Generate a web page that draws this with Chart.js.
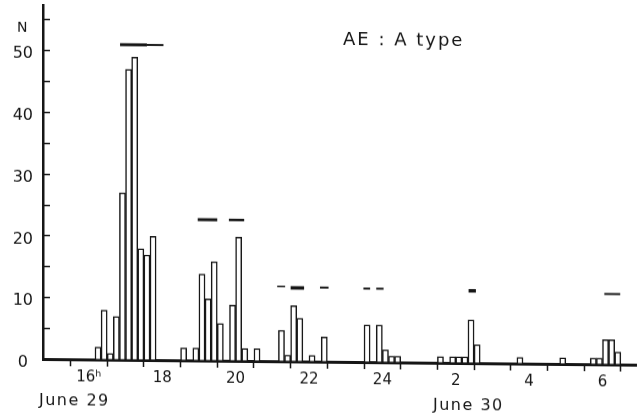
<!DOCTYPE html>
<html>
<head>
<meta charset="utf-8">
<script src="https://cdn.jsdelivr.net/npm/chart.js@4"></script>
<style>
  html, body { margin: 0; padding: 0; background: #fff; }
  /* the scanned original sits slightly askew: baseline drops to the right */
  #c { display: block; transform: skewY(0.55deg); transform-origin: 43px 359px; }
</style>
</head>
<body>
<canvas id="c" width="637" height="415"></canvas>
<script>
// 10-minute bins, start time of each bin (after midnight = June 30)
const binStart = [
  '16:10', '16:20', '16:30', '16:40', '16:50', '17:00', '17:10', '17:20', '17:30', '17:40',
  '18:30', '18:50', '19:00', '19:10', '19:20', '19:30', '19:50', '20:00', '20:10', '20:30',
  '21:10', '21:20', '21:30', '21:40', '22:00', '22:20', '23:30', '23:50', '0:00', '0:10', '0:20',
  '1:30', '1:50', '2:00', '2:10', '2:20', '2:30', '3:40', '4:50', '5:40', '5:50', '6:00', '6:10', '6:20'
];
const counts = [
  2, 8, 1, 7, 27, 47, 49, 18, 17, 20,
  2, 2, 14, 10, 16, 6, 9, 20, 2, 2,
  5, 1, 9, 7, 1, 4, 6, 6, 2, 1, 1,
  1, 1, 1, 1, 7, 3, 1, 1, 1, 1, 4, 4, 2
];

// short horizontal bars drawn above the groups
const segFrom  = ['16:51', '17:35', '18:58', '19:49', '21:08', '21:30', '22:18', '23:29', '23:50', '2:21', '6:03'];
const segTo    = ['17:35', '18:02', '19:30', '20:14', '21:21', '21:52', '22:32', '23:40', '0:02', '2:33', '6:29'];
const segLevel = [51, 51, 22.8, 22.8, 12.1, 11.9, 12, 11.9, 11.9, 11.7, 11.4];

const hourTicks  = [16, 18, 20, 22, 24, 26, 28, 30];
const hourLabels = ['16\u02B0', '18', '20', '22', '24', '2', '4', '6'];
const yTicks = [0, 10, 20, 30, 40, 50];

const INK = '#161616';
const BIN_MIN = 10;
const segWidths = [3, 2, 3, 2.5, 1.5, 3.5, 2, 2, 2, 3.5, 2];

function toHours(s) {
  const [h, m] = s.split(':').map(Number);
  return (h < 12 ? h + 24 : h) + m / 60;
}

const barData = binStart.map((s, i) => ({ x: toHours(s) + BIN_MIN / 120, y: counts[i] }));

const segSets = segFrom.map((s, i) => ({
  type: 'line',
  data: [{ x: toHours(s), y: segLevel[i] }, { x: toHours(segTo[i]), y: segLevel[i] }],
  borderColor: INK,
  borderWidth: segWidths[i],
  borderCapStyle: 'butt',
  pointRadius: 0,
  fill: false
}));

const extras = {
  id: 'extras',
  afterDraw(chart) {
    const c = chart.ctx;
    const ys = chart.scales.y;
    const left = chart.chartArea.left;
    c.save();
    // minor + major tick marks on the inside of the y axis
    c.strokeStyle = INK;
    c.lineWidth = 1.5;
    for (let v = 5; v < ys.max; v += 5) {
      const py = Math.round(ys.getPixelForValue(v)) + 0.5;
      c.beginPath();
      c.moveTo(left, py);
      c.lineTo(left + 7, py);
      c.stroke();
    }
    c.fillStyle = INK;
    c.textBaseline = 'alphabetic';
    c.textAlign = 'left';
    c.font = '14px "DejaVu Sans"';
    c.fillText('N', 17, 32);
    c.font = '18px "DejaVu Sans"';
    c.letterSpacing = '2px';
    c.fillText('AE : A type', 343, 42);
    c.font = '16px "DejaVu Sans"';
    c.letterSpacing = '1.5px';
    c.fillText('June 29', 39, 405);
    c.fillText('June 30', 433, 406);
    c.restore();
  }
};

new Chart(document.getElementById('c'), {
  type: 'bar',
  data: {
    datasets: [{
      data: barData,
      backgroundColor: '#fff',
      borderColor: INK,
      borderWidth: 1.5,
      categoryPercentage: 1,
      barPercentage: 1
    }, ...segSets]
  },
  options: {
    responsive: false,
    animation: false,
    layout: { padding: { top: 5, left: 0, right: 0, bottom: 0 } },
    plugins: { legend: { display: false }, tooltip: { enabled: false } },
    scales: {
      x: {
        type: 'linear',
        offset: false,
        min: 14.75,
        max: 30.94,
        afterFit(scale) {
          scale.height = 56;
          scale.paddingLeft = 0;
          scale.paddingRight = 0;
        },
        afterBuildTicks(scale) {
          const t = [];
          for (let h = 15.5; h <= 30.5; h += 0.5) t.push({ value: h });
          scale.ticks = t;
        },
        grid: {
          offset: false,
          drawOnChartArea: false,
          drawTicks: true,
          tickLength: 7,
          tickWidth: 1.5,
          tickColor: (ctx) => (ctx.tick && ctx.tick.value % 1 !== 0) ? INK : 'rgba(0,0,0,0)'
        },
        border: { display: true, color: INK, width: 3 },
        ticks: {
          autoSkip: false,
          maxRotation: 0,
          padding: 2,
          color: INK,
          font: { family: 'DejaVu Sans', size: 15 },
          callback: (v) => {
            const i = hourTicks.indexOf(v);
            return i >= 0 ? hourLabels[i] : '';
          }
        }
      },
      y: {
        min: 0,
        max: 57.3,
        afterFit(scale) {
          scale.width = 43;
          scale.paddingTop = 0;
          scale.paddingBottom = 0;
        },
        afterBuildTicks(scale) { scale.ticks = yTicks.map(v => ({ value: v })); },
        grid: { drawOnChartArea: false, drawTicks: false },
        border: { display: true, color: INK, width: 2.5 },
        ticks: {
          crossAlign: 'center',
          padding: 10,
          labelOffset: 4,
          color: INK,
          font: { family: 'DejaVu Sans', size: 16 }
        }
      }
    }
  },
  plugins: [extras]
});
</script>
</body>
</html>
